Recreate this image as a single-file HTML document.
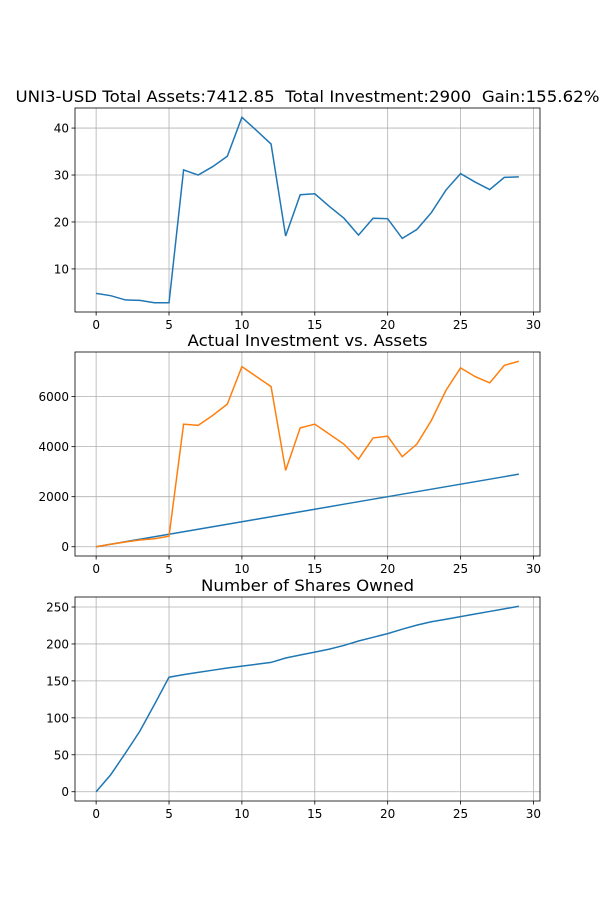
<!DOCTYPE html>
<html><head><meta charset="utf-8"><style>
body{margin:0;background:#fff;}
svg text{font-family:"DejaVu Sans","Liberation Sans",sans-serif;fill:#000;white-space:pre;}
</style></head><body>
<svg id="c" width="600" height="900" xmlns="http://www.w3.org/2000/svg"></svg>
<script>
const xs = [0,1,2,3,4,5,6,7,8,9,10,11,12,13,14,15,16,17,18,19,20,21,22,23,24,25,26,27,28,29];
const price = [4.8,4.3,3.4,3.3,2.8,2.8,31.1,30.0,31.8,34.0,42.3,39.5,36.6,17.0,25.8,26.0,23.3,20.8,17.2,20.8,20.7,16.5,18.4,22.0,26.8,30.3,28.5,26.9,29.5,29.6];
const investment = [0,100,200,300,400,500,600,700,800,900,1000,1100,1200,1300,1400,1500,1600,1700,1800,1900,2000,2100,2200,2300,2400,2500,2600,2700,2800,2900];
const assets = [0,100,190,270,320,420,4900,4850,5250,5700,7200,6800,6400,3050,4750,4900,4500,4100,3500,4350,4420,3600,4100,5050,6250,7150,6800,6550,7250,7413];
const shares = [0,23,52,82,118,155,158.5,161.5,164.5,167.5,170,172.5,175,181,185,189,193,198,204,209,214,220,225.5,230,233.5,237,240.5,244,247.5,251];
const xTicks = [0,5,10,15,20,25,30];
const yTicks1 = [10,20,30,40];
const yTicks2 = [0,2000,4000,6000];
const yTicks3 = [0,50,100,150,200,250];
const titles = ["UNI3-USD Total Assets:7412.85  Total Investment:2900  Gain:155.62%","Actual Investment vs. Assets","Number of Shares Owned"];

const svg=document.getElementById('c');
const NS='http://www.w3.org/2000/svg';
function mk(t,a,p){const e=document.createElementNS(NS,t);for(const k in a)e.setAttribute(k,a[k]);(p||svg).appendChild(e);return e;}
const L=75,R=540;
function panel(top,bot,series,colors,yticks,title,name,tl){
  const g=mk('g',{});
  
  
  let mn=Infinity,mx=-Infinity;series.forEach(s=>s.forEach(v=>{mn=Math.min(mn,v);mx=Math.max(mx,v);}));
  const pad=(mx-mn)*0.05;const y0=mn-pad,y1=mx+pad;
  const xmn=-1.45,xmx=30.45;
  const X=v=>L+(v-xmn)/(xmx-xmn)*(R-L);
  const Y=v=>bot-(v-y0)/(y1-y0)*(bot-top);
  xTicks.forEach(t=>{const x=X(t);
    const gl=mk('line',{x1:x,x2:x,y1:top,y2:bot,stroke:'#b0b0b0','stroke-width':0.8},g);
    
    mk('line',{x1:x,x2:x,y1:bot,y2:bot+3.5,stroke:'#000','stroke-width':0.8},g);
    const tx=mk('text',{x:x,y:bot+17,'text-anchor':'middle','font-size':12},g);tx.textContent=t;
    });
  yticks.forEach(t=>{const y=Y(t);
    const gl=mk('line',{x1:L,x2:R,y1:y,y2:y,stroke:'#b0b0b0','stroke-width':0.8},g);
    
    mk('line',{x1:L-3.5,x2:L,y1:y,y2:y,stroke:'#000','stroke-width':0.8},g);
    const tx=mk('text',{x:L-6,y:y+4.5,'text-anchor':'end','font-size':12},g);tx.textContent=t;
    });
  series.forEach((s,i)=>{const p=mk('polyline',{points:s.map((v,j)=>X(xs[j])+','+Y(v)).join(' '),fill:'none',stroke:colors[i],'stroke-width':1.5},g);
    });
  const f=mk('rect',{x:L,y:top,width:R-L,height:bot-top,fill:'none',stroke:'#000','stroke-width':0.8},g);
  
  const tt=mk('text',{x:(L+R)/2,y:top-6,'text-anchor':'middle','font-size':16,'xml:space':'preserve',textLength:tl,lengthAdjust:'spacingAndGlyphs'},g);tt.textContent=title;
  
}
panel(108,312,[price],['#1f77b4'],yTicks1,titles[0],'price-panel',584);
panel(352,556,[investment,assets],['#1f77b4','#ff7f0e'],yTicks2,titles[1],'investment-assets-panel',240);
panel(597,801,[shares],['#1f77b4'],yTicks3,titles[2],'shares-panel',213);
</script>
</body></html>
